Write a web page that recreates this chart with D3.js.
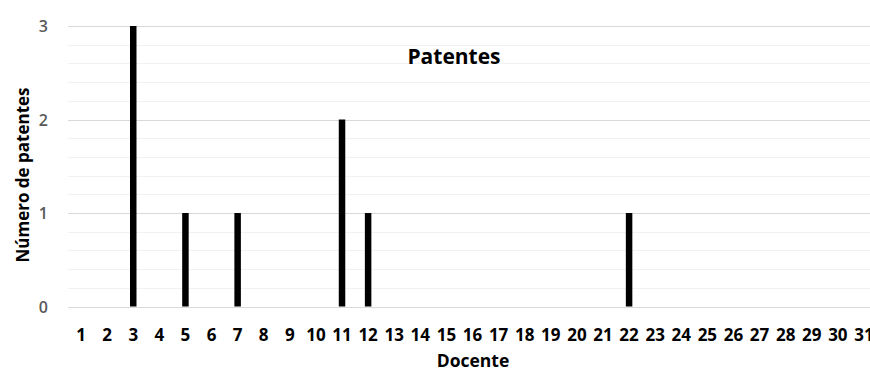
<!DOCTYPE html>
<html>
<head>
<meta charset="utf-8">
<script src="https://cdn.jsdelivr.net/npm/d3@7"></script>
<style>
  html, body { margin: 0; padding: 0; background: #fff; }
  svg { display: block; font-family: "Open Sans", Lato, sans-serif; }
</style>
</head>
<body>
<svg id="chart" width="870" height="372"></svg>
<script>
// Patent counts per teacher (Docente 1..31)
const docentes = d3.range(1, 32).map(String);
const patentes = [0,0,3,0,1,0,1,0,0,0,2,1,0,0,0,0,0,0,0,0,0,1,0,0,0,0,0,0,0,0,0];
const yTicks = [0, 1, 2, 3];
const yMinorTicks = d3.range(0, 3.0001, 0.2);

const data = docentes.map((d, i) => ({ docente: d, value: patentes[i] }));

const svg = d3.select("#chart");
const plotLeft = 68, plotRight = 877, plotTop = 26, plotBottom = 306.5;

const x = d3.scaleBand().domain(docentes).range([plotLeft, plotRight]).paddingInner(0).paddingOuter(0);
const y = d3.scaleLinear().domain([0, 3]).range([plotBottom, plotTop]);

// minor gridlines
svg.append("g").selectAll("line").data(yMinorTicks).join("line")
  .attr("x1", plotLeft).attr("x2", 870)
  .attr("y1", d => Math.round(y(d)) + 0.5).attr("y2", d => Math.round(y(d)) + 0.5)
  .attr("stroke", "#f2f2f2").attr("stroke-width", 1);

// major gridlines
svg.append("g").selectAll("line").data(yTicks).join("line")
  .attr("x1", plotLeft).attr("x2", 870)
  .attr("y1", d => Math.round(y(d)) + 0.5).attr("y2", d => Math.round(y(d)) + 0.5)
  .attr("stroke", "#d9d9d9").attr("stroke-width", 1);

// bars
const barW = 6.5;
svg.append("g").selectAll("rect").data(data.filter(d => d.value > 0)).join("rect")
  .attr("x", d => x(d.docente) + x.bandwidth() / 2 - barW / 2)
  .attr("width", barW)
  .attr("y", d => y(d.value))
  .attr("height", d => y(0) - y(d.value))
  .attr("fill", "#000");

// y axis labels
const yAxis = d3.axisLeft(y).tickValues(yTicks).tickSize(0).tickPadding(0).tickFormat(d3.format("d"));
const gy = svg.append("g").attr("transform", "translate(48,0)").call(yAxis);
gy.select(".domain").remove();
gy.selectAll("text").attr("fill", "#595959").attr("font-size", 16).attr("font-weight", 600)
  .attr("font-family", "'Open Sans', sans-serif").attr("dy", "0.36em");

// x axis labels
const xAxis = d3.axisBottom(x).tickSize(0).tickPadding(0);
const gx = svg.append("g").attr("transform", "translate(0,341)").call(xAxis);
gx.select(".domain").remove();
gx.selectAll("text").attr("fill", "#000").attr("font-size", 17).attr("font-weight", "bold")
  .attr("font-family", "'Open Sans', sans-serif").attr("dy", 0);

// title
svg.append("text").attr("x", 454).attr("y", 64).attr("text-anchor", "middle")
  .attr("font-size", 21).attr("font-weight", "bold").attr("fill", "#000").text("Patentes");

// axis titles
svg.append("text").attr("x", 473).attr("y", 367).attr("text-anchor", "middle")
  .attr("font-size", 17.5).attr("font-weight", "bold").attr("fill", "#000").text("Docente");

svg.append("text").attr("transform", "translate(29,175) rotate(-90)").attr("text-anchor", "middle")
  .attr("font-size", 17).attr("font-weight", "bold").attr("fill", "#000").text("Número de patentes");
</script>
</body>
</html>
